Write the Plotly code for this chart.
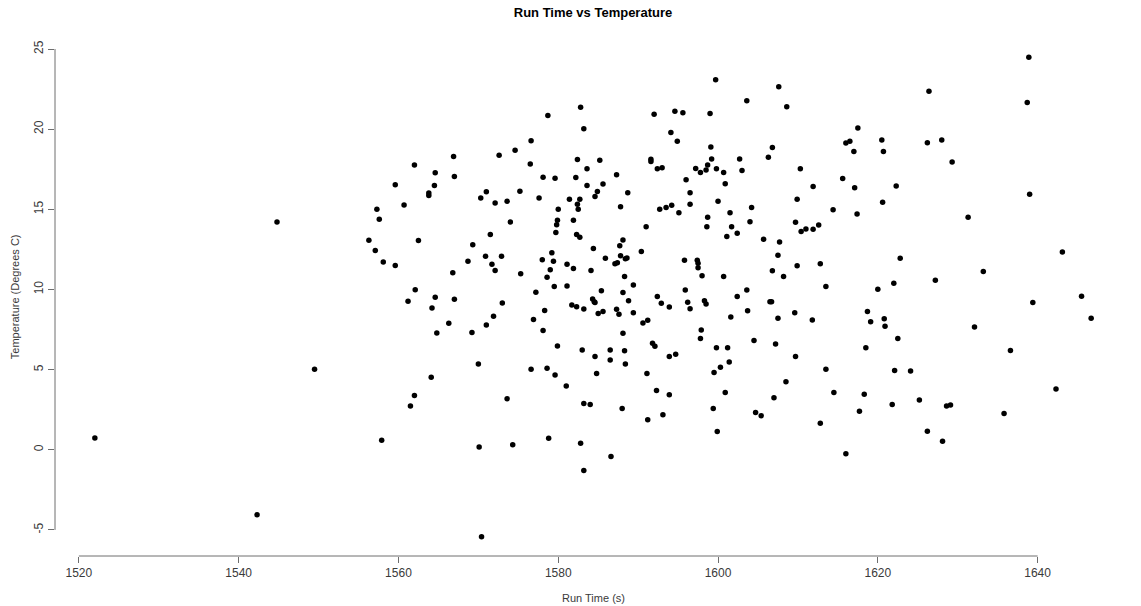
import plotly.graph_objects as go

# Run time (s) of each recorded run and the temperature (deg C) measured for it
run_time = [
    1522.0, 1542.3,
    1562.0, 1559.6, 1560.7, 1557.3, 1557.6, 1544.8, 1556.3, 1562.5, 1557.1, 1558.1,
    1559.6, 1562.1, 1561.2, 1549.5, 1562.0, 1561.5, 1557.9,
    1582.8, 1578.7, 1583.2, 1576.6, 1574.6, 1566.9, 1572.6, 1576.5, 1582.4, 1564.6,
    1567.0, 1578.1, 1579.6, 1582.2, 1583.6, 1564.5, 1583.6, 1563.8, 1563.8, 1575.2,
    1570.3, 1571.0, 1572.1, 1573.6, 1577.6, 1581.4, 1582.7, 1582.4, 1582.5, 1580.0,
    1579.9, 1579.8, 1579.7, 1581.9, 1574.0, 1571.5, 1582.3, 1582.7, 1569.3, 1570.9,
    1572.9, 1568.7, 1571.7, 1572.1, 1566.8, 1575.3, 1579.2, 1578.0, 1579.4, 1579.0,
    1578.6, 1579.5, 1581.1, 1581.9, 1581.1, 1577.2, 1564.6, 1567.0, 1573.0, 1564.2,
    1581.7, 1582.3, 1583.2, 1578.3, 1571.9, 1576.9, 1566.3, 1571.0, 1578.1, 1564.8,
    1569.2, 1579.9, 1583.0, 1570.0, 1576.6, 1578.6, 1579.6, 1564.1, 1581.0, 1573.6,
    1583.2, 1578.8, 1574.3, 1570.1, 1582.8, 1583.2, 1570.4,
    1599.7, 1603.6, 1592.0, 1594.6, 1595.6, 1599.0, 1594.1, 1594.9, 1599.1, 1585.2,
    1599.2, 1602.7, 1591.6, 1591.6, 1592.4, 1593.0, 1597.2, 1597.8, 1598.5, 1598.7,
    1599.8, 1600.7, 1603.0, 1587.3, 1585.6, 1584.9, 1584.6, 1588.7, 1596.0, 1596.5,
    1600.9, 1587.8, 1592.7, 1593.5, 1594.2, 1595.1, 1596.5, 1600.0, 1604.2, 1604.0,
    1598.7, 1601.5, 1598.6, 1601.7, 1602.4, 1601.1, 1591.0, 1588.1, 1587.7, 1584.4,
    1590.4, 1587.8, 1588.4, 1588.6, 1585.9, 1587.4, 1587.1, 1584.1, 1595.8, 1597.4,
    1597.5, 1597.5, 1598.0, 1600.7, 1588.3, 1589.4, 1585.4, 1588.1, 1595.9, 1603.6,
    1592.4, 1602.4, 1584.3, 1584.5, 1584.6, 1588.8, 1592.9, 1596.2, 1598.3, 1598.5,
    1593.9, 1596.5, 1587.3, 1585.0, 1585.6, 1587.6, 1589.4, 1603.7, 1601.6, 1591.2,
    1590.6, 1597.9, 1597.8, 1588.1, 1591.8, 1592.1, 1599.8, 1601.2, 1586.5, 1588.3,
    1584.6, 1593.9, 1594.7, 1586.5, 1588.4, 1601.4, 1600.3, 1599.5, 1584.8, 1591.1,
    1592.3, 1593.9, 1600.9, 1584.0, 1588.0, 1599.4, 1593.1, 1591.2, 1599.9, 1586.6,
    1607.6, 1608.6, 1617.5, 1616.0, 1616.5, 1620.5, 1617.0, 1620.7, 1606.8, 1606.3,
    1610.3, 1615.6, 1617.1, 1611.9, 1622.3, 1609.9, 1620.6, 1614.4, 1617.4, 1609.7,
    1610.4, 1611.0, 1611.9, 1612.6, 1605.7, 1607.7, 1607.5, 1609.9, 1612.8, 1606.8,
    1608.2, 1622.8, 1613.5, 1620.0, 1622.0, 1606.5, 1606.7, 1609.6, 1607.5, 1611.8,
    1618.7, 1619.1, 1620.8, 1620.9, 1604.5, 1607.2, 1622.5, 1618.5, 1609.7, 1613.5,
    1622.1, 1624.1, 1608.5, 1614.5, 1618.3, 1607.0, 1621.8, 1617.7, 1604.7, 1605.4,
    1612.8, 1616.0,
    1638.9, 1626.4, 1638.7, 1626.2, 1628.0, 1629.3, 1639.0, 1631.3, 1643.1, 1633.2,
    1627.2, 1645.5, 1639.4, 1646.7, 1632.1, 1636.6, 1642.3, 1625.2, 1628.6, 1629.1,
    1635.8, 1626.2, 1628.1,
]

temperature = [
    0.74, -4.06,
    17.76, 16.54, 15.27, 15.01, 14.38, 14.21, 13.07, 13.05, 12.43, 11.72,
    11.50, 9.98, 9.26, 5.03, 3.38, 2.73, 0.59,
    21.36, 20.85, 20.02, 19.28, 18.69, 18.29, 18.38, 17.83, 18.10, 17.28,
    17.04, 17.00, 16.94, 16.98, 17.53, 16.49, 16.49, 16.01, 15.86, 16.13,
    15.71, 16.09, 15.39, 15.50, 15.71, 15.63, 15.63, 15.31, 15.01, 15.01,
    14.32, 14.04, 13.55, 14.32, 14.21, 13.43, 13.43, 13.26, 12.79, 12.07,
    12.07, 11.76, 11.57, 11.19, 11.04, 10.98, 12.29, 11.86, 11.76, 11.23,
    10.76, 10.19, 11.57, 11.31, 10.21, 9.83, 9.52, 9.39, 9.16, 8.84,
    9.03, 8.92, 8.78, 8.69, 8.33, 8.12, 7.89, 7.78, 7.44, 7.28,
    7.32, 6.47, 6.22, 5.35, 5.03, 5.08, 4.67, 4.53, 3.98, 3.19,
    2.88, 0.72, 0.32, 0.17, 0.40, -1.29, -5.43,
    23.09, 21.78, 20.93, 21.12, 21.02, 20.98, 19.79, 19.24, 18.88, 18.06,
    18.14, 18.14, 18.12, 17.99, 17.53, 17.59, 17.55, 17.30, 17.45, 17.76,
    17.53, 17.30, 17.42, 17.15, 16.58, 16.11, 15.80, 16.03, 16.85, 16.03,
    16.60, 15.16, 15.01, 15.12, 15.25, 14.78, 15.31, 15.50, 15.12, 14.23,
    14.51, 14.78, 13.91, 13.91, 13.51, 13.30, 13.91, 13.09, 12.73, 12.56,
    12.37, 12.10, 11.91, 11.97, 11.95, 11.67, 11.61, 11.19, 11.82, 11.82,
    11.63, 11.36, 10.85, 10.81, 10.81, 10.28, 9.92, 9.81, 9.96, 9.96,
    9.56, 9.56, 9.41, 9.24, 9.18, 9.30, 9.14, 9.20, 9.30, 9.09,
    8.90, 8.80, 8.76, 8.50, 8.63, 8.46, 8.54, 8.67, 8.29, 8.08,
    7.91, 7.47, 6.94, 7.27, 6.64, 6.45, 6.37, 6.37, 6.22, 6.18,
    5.82, 5.82, 5.96, 5.60, 5.35, 5.48, 5.14, 4.82, 4.76, 4.76,
    3.70, 3.43, 3.57, 2.83, 2.58, 2.58, 2.18, 1.88, 1.14, -0.42,
    22.65, 21.40, 20.07, 19.14, 19.24, 19.33, 18.61, 18.61, 18.86, 18.25,
    17.53, 16.92, 16.35, 16.43, 16.45, 15.63, 15.44, 14.97, 14.70, 14.19,
    13.62, 13.77, 13.75, 14.02, 13.13, 12.96, 12.14, 11.48, 11.61, 11.17,
    10.81, 11.95, 10.19, 10.02, 10.38, 9.24, 9.24, 8.54, 8.21, 8.10,
    8.63, 7.99, 8.18, 7.70, 6.81, 6.60, 6.94, 6.37, 5.82, 5.03,
    4.95, 4.91, 4.25, 3.57, 3.47, 3.24, 2.83, 2.41, 2.33, 2.12,
    1.65, -0.25,
    24.49, 22.37, 21.67, 19.16, 19.33, 17.95, 15.94, 14.51, 12.33, 11.12,
    10.57, 9.58, 9.18, 8.21, 7.66, 6.20, 3.79, 3.11, 2.73, 2.79,
    2.26, 1.16, 0.53,
]

x_ticks = [1520, 1540, 1560, 1580, 1600, 1620, 1640]
y_ticks = [-5, 0, 5, 10, 15, 20, 25]

FONT = "Liberation Sans, Arial, sans-serif"
AXIS_GREY = "#6e6e6e"
TEXT_GREY = "#3a3a3a"

# Plot region padded by 4% of the data span on each side
def padded(values):
    lo, hi = min(values), max(values)
    pad = 0.04 * (hi - lo)
    return [lo - pad, hi + pad]

fig = go.Figure(
    go.Scatter(
        x=run_time,
        y=temperature,
        mode="markers",
        marker=dict(color="black", size=5.5, line=dict(width=0)),
        hoverinfo="x+y",
    )
)

axis_common = dict(
    showgrid=False,
    zeroline=False,
    showline=False,
    ticks="outside",
    ticklen=6,
    tickwidth=1,
    tickcolor=AXIS_GREY,
    tickfont=dict(family=FONT, size=12, color=TEXT_GREY),
)

fig.update_xaxes(
    range=padded(run_time),
    tickmode="array",
    tickvals=x_ticks,
    ticktext=[str(t) for t in x_ticks],
    **axis_common,
)
fig.update_yaxes(
    range=padded(temperature),
    tickmode="array",
    tickvals=y_ticks,
    ticktext=[str(t) for t in y_ticks],
    tickangle=-90,
    **axis_common,
)

# Axis lines span only the labelled tick range
fig.add_shape(type="line", xref="x", yref="paper",
              x0=min(x_ticks), x1=max(x_ticks), y0=0, y1=0,
              line=dict(color=AXIS_GREY, width=1))
fig.add_shape(type="line", xref="paper", yref="y",
              x0=0, x1=0, y0=min(y_ticks), y1=max(y_ticks),
              line=dict(color=AXIS_GREY, width=1))

fig.add_annotation(text="Run Time (s)", xref="paper", yref="paper",
                   x=0.5, y=-0.081, showarrow=False, yanchor="middle",
                   font=dict(family=FONT, size=11, color=TEXT_GREY))
fig.add_annotation(text="Temperature (Degrees C)", xref="paper", yref="paper",
                   x=-0.037, y=0.5, showarrow=False, textangle=-90,
                   xanchor="center", font=dict(family=FONT, size=11, color=TEXT_GREY))

fig.update_layout(
    width=1141,
    height=606,
    margin=dict(l=55, r=10, t=38, b=50),
    paper_bgcolor="white",
    plot_bgcolor="white",
    showlegend=False,
    title=dict(
        text="<b>Run Time vs Temperature</b>",
        x=0.5, xref="paper",
        y=0.98, yref="container", yanchor="middle",
        font=dict(family=FONT, size=13, color="black"),
    ),
)

fig.write_html("out.html")
